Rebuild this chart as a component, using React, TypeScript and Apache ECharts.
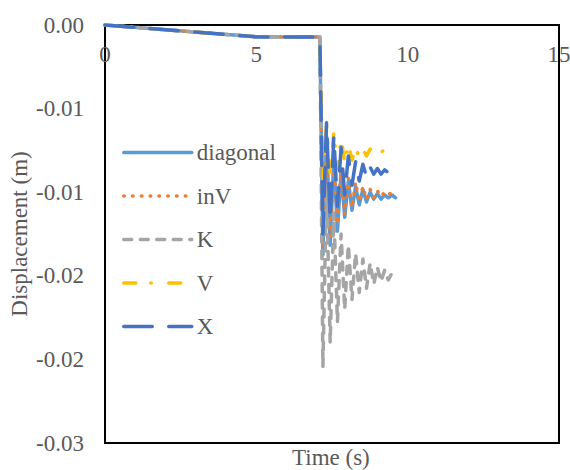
import React, { useEffect, useRef } from "react";
import * as echarts from "echarts";

// Time stamps (s): quasi-static ramp, then the dynamic response after the drop
const timeS = [
  0, 5, 7.1,
  7.2, 7.32, 7.44, 7.56, 7.68, 7.8, 7.92, 8.04, 8.16, 8.28, 8.4,
  8.52, 8.64, 8.76, 8.88, 9.0, 9.12, 9.24, 9.36, 9.48, 9.6,
];

// Displacement (m) per bracing layout
const diagonal = [
  0, -0.00085, -0.00087,
  -0.0165, -0.008, -0.0158, -0.0095, -0.0148, -0.0105, -0.0138, -0.0112, -0.0133, -0.0116, -0.0129,
  -0.0118, -0.0127, -0.012, -0.0125, -0.0121, -0.0125, -0.0122, -0.0124, -0.0122, -0.0124,
];
const inV = [
  0, -0.00085, -0.00087,
  -0.016, -0.0085, -0.0152, -0.0098, -0.0143, -0.0104, -0.0136, -0.011, -0.0131, -0.0113, -0.0127,
  -0.0116, -0.0125, -0.0118, -0.0124, -0.0119, -0.0123, -0.012, -0.0122, -0.012, -0.0121,
];
const K = [
  0, -0.00085, -0.00087,
  -0.0245, -0.0115, -0.0228, -0.0135, -0.0213, -0.015, -0.0204, -0.0158, -0.0197, -0.0164, -0.0192,
  -0.0168, -0.0189, -0.0171, -0.0186, -0.0174, -0.0184, -0.0176, -0.0183, -0.0178, -0.018,
];
const V = [
  0, -0.00085, -0.00087,
  -0.0112, -0.0072, -0.0108, -0.0077, -0.0103, -0.0081, -0.0099, -0.0085, -0.0097, -0.0088, -0.0095,
  -0.0089, -0.0094, -0.0089, -0.0092, -0.009, -0.0091, -0.009, -0.0091, -0.009, -0.009,
];
const X = [
  0, -0.00085, -0.00087,
  -0.015, -0.007, -0.014, -0.008, -0.013, -0.0088, -0.0122, -0.0094, -0.0115, -0.0098, -0.0112,
  -0.01, -0.0109, -0.0102, -0.0107, -0.0103, -0.0107, -0.0104, -0.0106, -0.0104, -0.0105,
];

// Tick labels as printed (two decimals)
const yTickLabels = ["0.00", "-0.01", "-0.01", "-0.02", "-0.02", "-0.03"];
const xTickLabels = ["0", "5", "10", "15"];

const FONT = "Liberation Serif";
const TEXT = "#595959";

const pairs = (ys: number[]) => ys.map((y, i) => [timeS[i], y]);

const tickRich = {
  s: { fontFamily: FONT, fontSize: 23, color: TEXT },
};

export default function App() {
  const ref = useRef<HTMLDivElement>(null);

  useEffect(() => {
    if (!ref.current) return;
    const chart = echarts.init(ref.current, undefined, { renderer: "svg" });

    const mk = (name: string, ys: number[], color: string, type: any) => ({
      name,
      type: "line",
      data: pairs(ys),
      symbol: "none",
      showSymbol: false,
      lineStyle: { color, width: 3.5, type, cap: "round", join: "round" },
      itemStyle: { color },
    });

    chart.setOption({
      animation: false,
      backgroundColor: "#fff",
      textStyle: { fontFamily: FONT },
      grid: {
        left: 105,
        top: 25,
        right: 11,
        bottom: 27,
        outerBoundsMode: "none",
        containLabel: false,
        show: true,
        borderColor: "#000",
        borderWidth: 2,
      },
      xAxis: {
        type: "value",
        position: "top",
        min: 0,
        max: 15,
        interval: 5,
        axisLine: { show: true, lineStyle: { color: "#000", width: 2 } },
        axisTick: { show: false },
        splitLine: { show: false },
        axisLabel: {
          inside: true,
          margin: 18,
          color: TEXT,
          fontFamily: FONT,
          fontSize: 23,
          rich: tickRich,
          formatter: (v: number) => `{s|${xTickLabels[Math.round(v / 5)] ?? ""}}`,
        },
      },
      yAxis: {
        type: "value",
        min: -0.03,
        max: 0,
        interval: 0.006,
        axisLine: { show: true, onZero: false, lineStyle: { color: "#000", width: 2 } },
        axisTick: { show: false },
        splitLine: { show: false },
        axisLabel: {
          margin: 21,
          color: TEXT,
          fontFamily: FONT,
          fontSize: 23,
          rich: tickRich,
          formatter: (v: number) => `{s|${yTickLabels[Math.round(-v / 0.006)] ?? ""}}`,
        },
        name: "Displacement (m)",
        nameLocation: "middle",
        nameGap: 74,
        nameMoveOverlap: false,
        nameTextStyle: { color: TEXT, fontFamily: FONT, fontSize: 23 },
      },
      legend: {
        orient: "vertical",
        left: 122,
        top: 141,
        padding: 0,
        itemWidth: 68,
        itemHeight: 22,
        itemGap: 20.5,
        itemStyle: { opacity: 0 },
        lineStyle: { width: 3.5, cap: "round" },
        textStyle: { color: TEXT, fontFamily: FONT, fontSize: 23 },
        data: ["diagonal", "inV", "K", "V", "X"],
      },
      graphic: [
        {
          type: "text",
          left: 292,
          top: 446,
          style: { text: "Time (s)", fill: TEXT, fontFamily: FONT, fontSize: 23 },
        },
      ],
      series: [
        mk("diagonal", diagonal, "#5B9BD5", "solid"),
        mk("inV", inV, "#ED7D31", [0.5, 8.3]),
        mk("K", K, "#A5A5A5", [8, 8.5]),
        mk("V", V, "#FFC000", [12, 15, 0.5, 17.5]),
        mk("X", X, "#4472C4", [28.5, 16.5]),
      ],
    });

    return () => chart.dispose();
  }, []);

  return (
    <div
      ref={ref}
      style={{ position: "absolute", left: 0, top: 0, width: 570, height: 470 }}
    />
  );
}
